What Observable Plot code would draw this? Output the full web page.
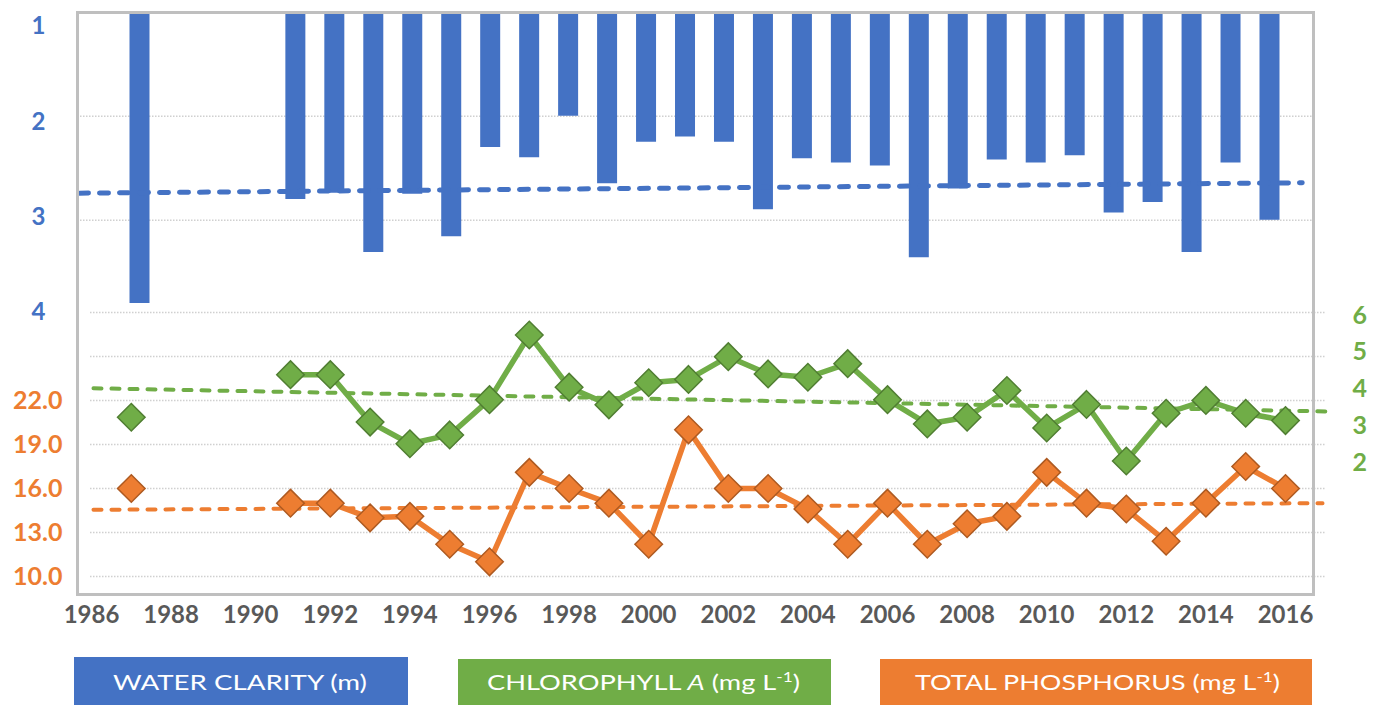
<!DOCTYPE html>
<html><head><meta charset="utf-8">
<script src="https://cdn.jsdelivr.net/npm/d3@7"></script>
<script src="https://cdn.jsdelivr.net/npm/@observablehq/plot@0.6"></script>
<style>
html,body{margin:0;padding:0;background:#fff;}
#chart{position:relative;width:1384px;height:706px;overflow:hidden;font-family:Lato,sans-serif;}
</style></head><body><div id="chart"></div>
<script>
// ---- data ----
const years = d3.range(1987, 2017);
const clarity = [3.80, null, null, null, 2.80, 2.74, 3.31, 2.75, 3.16, 2.30, 2.40, 2.00, 2.65, 2.25, 2.20, 2.25, 2.90, 2.41, 2.45, 2.48, 3.36, 2.70, 2.42, 2.45, 2.38, 2.93, 2.83, 3.31, 2.45, 3.00];
const chlorophyll = [3.23, null, null, null, 4.39, 4.39, 3.10, 2.51, 2.75, 3.71, 5.47, 4.05, 3.57, 4.17, 4.26, 4.88, 4.41, 4.32, 4.69, 3.71, 3.05, 3.23, 3.96, 2.94, 3.58, 2.04, 3.34, 3.69, 3.34, 3.14];
const phosphorus = [16.0, null, null, null, 15.0, 15.0, 14.0, 14.1, 12.2, 11.0, 17.1, 16.0, 15.0, 12.2, 20.0, 16.0, 16.0, 14.6, 12.2, 15.0, 12.2, 13.6, 14.1, 17.1, 15.0, 14.6, 12.4, 15.0, 17.5, 16.0];

const clarityTrendYears = [1985.46, 2016.84];
const clarityTrendValues = [2.74, 2.64];
const chlTrendYears = [1986.05, 2017.03];
const chlTrendValues = [4.02, 3.39];
const tpTrendYears = [1986.05, 2016.93];
const tpTrendValues = [14.55, 15.0];

const yearTicks = d3.range(1986, 2017, 2);
const tpGridTicks = [10, 13, 16, 19, 22, 25, 28];
const tpLabelTicks = [10, 13, 16, 19, 22];
const chlTicks = [2, 3, 4, 5, 6];
const clarityGridTicks = [2, 3];
const clarityLabelTicks = [1, 2, 3, 4];

const legendItems = ["WATER CLARITY (m)", "CHLOROPHYLL A (mg L-1)", "TOTAL PHOSPHORUS (mg L-1)"];

// ---- colours ----
const BLUE = "#4472C4", GREEN = "#70AD47", ORANGE = "#ED7D31";
const GREEN_DARK = "#507E32", ORANGE_DARK = "#AE5A21";
const GRID = "#d0d0d0", AXIS_TEXT = "#595959";

const rows = years.map((year, i) => ({year, clarity: clarity[i], chl: chlorophyll[i], tp: phosphorus[i]}));
const barRows = rows.filter(d => d.clarity != null);
const clTrend = clarityTrendYears.map((year, i) => ({year, v: clarityTrendValues[i]}));
const chTrend = chlTrendYears.map((year, i) => ({year, v: chlTrendValues[i]}));
const tpTrend = tpTrendYears.map((year, i) => ({year, v: tpTrendValues[i]}));

const W = 1384, H = 640;
const overlay = {position: "absolute", left: "0px", top: "0px", background: "transparent", overflow: "visible", fontFamily: "Lato, sans-serif"};
const xLines = {type: "linear", domain: [1986, 2016], range: [91, 1285]};
const chart = document.getElementById("chart");

// 1. phosphorus panel + x axis + grid
chart.append(Plot.plot({
  width: W, height: H,
  marginLeft: 90, marginRight: 59, marginTop: 12, marginBottom: 46,
  style: overlay,
  x: xLines,
  y: {domain: [10, 28], range: [576, 312]},
  marks: [
    Plot.gridY({ticks: tpGridTicks, stroke: GRID, strokeOpacity: 1, strokeWidth: 1.5, strokeDasharray: "1.5,1.5"}),
    Plot.axisX({ticks: yearTicks, tickFormat: d => String(d), tickSize: 0, tickPadding: 11, fontSize: 24, fontWeight: "bold", color: AXIS_TEXT, label: null}),
    Plot.axisY({ticks: tpLabelTicks, tickFormat: d => d.toFixed(1), tickSize: 0, tickPadding: 28, fontSize: 25, fontWeight: "bold", color: ORANGE, label: null}),
    Plot.line(tpTrend, {x: "year", y: "v", stroke: ORANGE, strokeWidth: 4, strokeDasharray: "8,10", strokeLinecap: "round"}),
    Plot.line(rows, {x: "year", y: "tp", stroke: ORANGE, strokeWidth: 5.5, strokeLinejoin: "round"}),
    Plot.dot(rows, {x: "year", y: "tp", symbol: "diamond2", r: 12.4, fill: ORANGE, stroke: ORANGE_DARK, strokeWidth: 1.5})
  ]
}));

// 2. chlorophyll panel (own y scale, right axis)
chart.append(Plot.plot({
  width: W, height: H,
  marginLeft: 90, marginRight: 59, marginTop: 12, marginBottom: 46,
  style: overlay,
  x: {...xLines, axis: null},
  y: {domain: [2, 6], range: [462, 315], axis: null},
  marks: [
    Plot.axisY({anchor: "right", ticks: chlTicks, tickFormat: d => String(d), tickSize: 0, tickPadding: 27, fontSize: 25, fontWeight: "bold", color: GREEN, label: null}),
    Plot.line(chTrend, {x: "year", y: "v", stroke: GREEN, strokeWidth: 4, strokeDasharray: "8,10", strokeLinecap: "round"}),
    Plot.line(rows, {x: "year", y: "chl", stroke: GREEN, strokeWidth: 5.5, strokeLinejoin: "round"}),
    Plot.dot(rows, {x: "year", y: "chl", symbol: "diamond2", r: 12.4, fill: GREEN, stroke: GREEN_DARK, strokeWidth: 1.5})
  ]
}));

// 3. water clarity bars + frame
chart.append(Plot.plot({
  width: W, height: H,
  marginLeft: 77, marginRight: 71, marginTop: 12, marginBottom: 46,
  style: overlay,
  x: {type: "linear", domain: [1987, 2016], range: [139, 1269], axis: null},
  y: {domain: [1, 4], range: [11.7, 323.7], axis: null},
  marks: [
    Plot.gridY({ticks: clarityGridTicks, stroke: GRID, strokeOpacity: 1, strokeWidth: 1.5, strokeDasharray: "1.5,1.5"}),
    Plot.ruleX(barRows, {x: "year", y1: () => 1, y2: "clarity", stroke: BLUE, strokeWidth: 20}),
    Plot.line(clTrend, {x: "year", y: "v", stroke: BLUE, strokeWidth: 5, strokeDasharray: "9,11", strokeLinecap: "round"}),
    Plot.frame({stroke: "#bfbfbf", strokeWidth: 3})
  ]
}));

// 4. water clarity axis labels
chart.append(Plot.plot({
  width: W, height: H,
  marginLeft: 77, marginRight: 71, marginTop: 12, marginBottom: 46,
  style: overlay,
  y: {domain: [1, 4], range: [26, 312]},
  marks: [
    Plot.axisY({ticks: clarityLabelTicks, tickFormat: d => String(d), tickSize: 0, tickPadding: 32, fontSize: 24, fontWeight: "bold", color: BLUE, label: null})
  ]
}));

// legend (SVG below the chart)
const ns = "http://www.w3.org/2000/svg";
const leg = document.createElementNS(ns, "svg");
leg.setAttribute("width", W); leg.setAttribute("height", 66);
leg.style.position = "absolute"; leg.style.left = "0px"; leg.style.top = "640px";
const boxes = [
  {fill: BLUE, x: 74, y: 17, w: 334, h: 48, cx: 240, tl: 254},
  {fill: GREEN, x: 458, y: 19, w: 373, h: 46, cx: 643.5, tl: 313},
  {fill: ORANGE, x: 880, y: 19, w: 432, h: 46, cx: 1097.5, tl: 365}
];
function legendMarkup(label) {
  let s = label.replace(/&/g, "&amp;");
  s = s.replace("CHLOROPHYLL A", 'CHLOROPHYLL <tspan font-style="italic">A</tspan>');
  s = s.replace("L-1)", 'L<tspan baseline-shift="super" font-size="14">-1</tspan>)');
  return s;
}
let html = "";
boxes.forEach((b, i) => {
  html += `<rect x="${b.x}" y="${b.y}" width="${b.w}" height="${b.h}" fill="${b.fill}"/>`;
  html += `<text x="${b.cx}" y="50" text-anchor="middle" fill="#fff" font-family="Lato, sans-serif" font-size="22" textLength="${b.tl}" lengthAdjust="spacingAndGlyphs">${legendMarkup(legendItems[i])}</text>`;
});
leg.innerHTML = html;
chart.append(leg);
</script></body></html>
